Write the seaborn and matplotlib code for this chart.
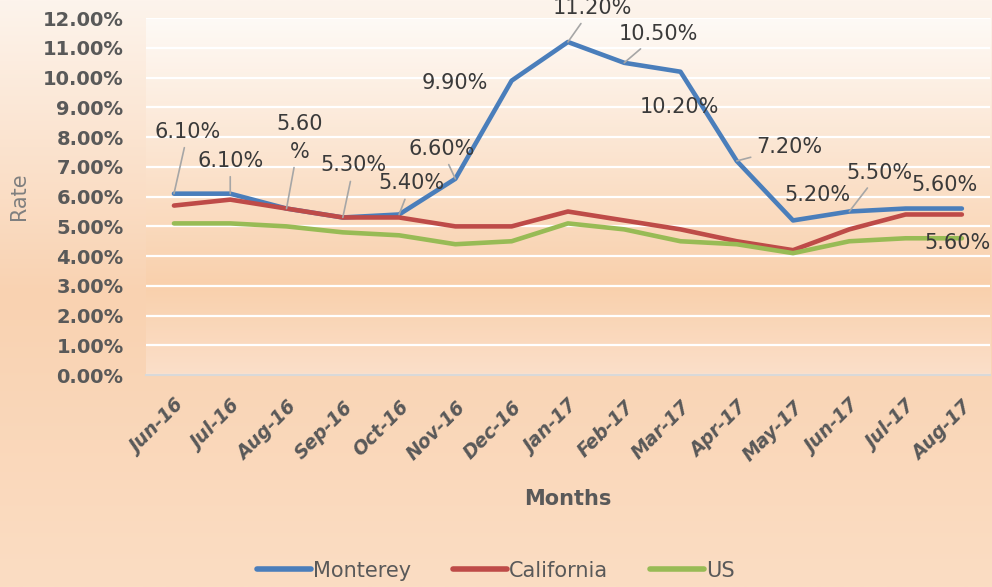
import numpy as np
import pandas as pd
import matplotlib
matplotlib.use("Agg")
import matplotlib.pyplot as plt
import seaborn as sns
from matplotlib.lines import Line2D

months = ["Jun-16", "Jul-16", "Aug-16", "Sep-16", "Oct-16", "Nov-16", "Dec-16", "Jan-17",
          "Feb-17", "Mar-17", "Apr-17", "May-17", "Jun-17", "Jul-17", "Aug-17"]
monterey = [6.1, 6.1, 5.6, 5.3, 5.4, 6.6, 9.9, 11.2, 10.5, 10.2, 7.2, 5.2, 5.5, 5.6, 5.6]
california = [5.7, 5.9, 5.6, 5.3, 5.3, 5.0, 5.0, 5.5, 5.2, 4.9, 4.5, 4.2, 4.9, 5.4, 5.4]
us = [5.1, 5.1, 5.0, 4.8, 4.7, 4.4, 4.5, 5.1, 4.9, 4.5, 4.4, 4.1, 4.5, 4.6, 4.6]
monterey_labels = ["6.10%", "6.10%", "5.60\n%", "5.30%", "5.40%", "6.60%", "9.90%", "11.20%",
                   "10.50%", "10.20%", "7.20%", "5.20%", "5.50%", "5.60%", None]
us_last_label = "5.60%"

df = pd.DataFrame({"Month": months * 3,
                   "Rate": monterey + california + us,
                   "Region": ["Monterey"] * 15 + ["California"] * 15 + ["US"] * 15})
df["x"] = list(range(15)) * 3

sns.set_style("white")
plt.rcParams["font.family"] = ["DejaVu Sans"]

fig = plt.figure(figsize=(9.92, 5.87), dpi=100)

# gradient background for the whole figure (top -> bottom)
bg = fig.add_axes([0, 0, 1, 1], zorder=-2)
t = np.linspace(0, 1, 300)
stops = [0.0, 0.5, 1.0]
cols = np.array([[253, 244, 236], [249, 210, 177], [251, 221, 195]]) / 255
grad = np.stack([np.interp(t, stops, cols[:, i]) for i in range(3)], axis=-1)
bg.imshow(grad[:, None, :], aspect="auto", extent=[0, 1, 0, 1])
bg.axis("off")

ax = fig.add_axes([0.147, 0.361, 0.851, 0.608])
ax.set_facecolor("none")
# plot area gradient (bottom -> top)
pa_stops = [0.0, 0.25, 1.0]
pa_cols = np.array([[251, 223, 201], [249, 208, 172], [254, 250, 246]]) / 255
pa = np.stack([np.interp(t, pa_stops, pa_cols[:, i]) for i in range(3)], axis=-1)
ax.imshow(pa[:, None, :], aspect="auto", extent=[-0.5, 14.5, 0, 12], origin="lower", zorder=0)

palette = {"Monterey": "#4A7EBB", "California": "#BE4B48", "US": "#98BB55"}
sns.lineplot(data=df, x="x", y="Rate", hue="Region", palette=palette, linewidth=3.3,
             ax=ax, zorder=3, legend=False, solid_capstyle="round")

ax.set_xlim(-0.5, 14.5)
ax.set_ylim(0, 12)
ax.set_yticks(np.arange(0, 13, 1))
ax.set_yticklabels([f"{v:.2f}%" for v in np.arange(0, 13, 1)], fontsize=14,
                   fontweight="bold", color="#595959")
ax.set_xticks(range(15))
ax.set_xticklabels(months, rotation=45, ha="right", rotation_mode="anchor",
                   fontsize=13.5, fontweight="bold", fontstyle="italic", color="#595959")
ax.set_xticks(np.arange(-0.5, 15, 1), minor=True)
ax.tick_params(axis="x", which="major", length=0, pad=16)
ax.tick_params(axis="x", which="minor", length=7, color="#D9D9D9", width=1.2)
ax.tick_params(axis="y", length=0, pad=16)
ax.grid(axis="y", color="white", linewidth=1.6, zorder=1)
ax.set_axisbelow(True)
for s in ["top", "right", "left"]:
    ax.spines[s].set_visible(False)
ax.spines["bottom"].set_color("#D9D9D9")
ax.spines["bottom"].set_linewidth(1.5)

ax.set_xlabel("Months", fontsize=15, fontweight="bold", color="#595959", labelpad=17)
ax.set_ylabel("Rate", fontsize=15, color="#7F7F7F")
ax.yaxis.set_label_coords(-0.138, 0.5)

# data labels (offsets in pixels, leader flag)
offsets = [(14, 62, True), (0, 33, True), (13, 71, True), (11, 52, True), (12, 31, True),
           (-14, 30, True), (-57, -2, False), (24, 34, True), (34, 29, True), (-1, -35, False),
           (53, 14, True), (24, 25, False), (30, 39, True), (39, 24, False)]
for i, (dx, dy, lead) in enumerate(offsets):
    ap = dict(arrowstyle="-", color="#A6A6A6", lw=1.2, shrinkA=2, shrinkB=0) if lead else None
    ax.annotate(monterey_labels[i], xy=(i, monterey[i]), xytext=(dx, dy),
                textcoords="offset pixels", ha="center", va="center", fontsize=15,
                color="#3A3A3A", arrowprops=ap, annotation_clip=False, zorder=5,
                linespacing=1.5)
ax.annotate(us_last_label, xy=(14, us[14]), xytext=(-4, -5), textcoords="offset pixels",
            ha="center", va="center", fontsize=15, color="#3A3A3A", annotation_clip=False,
            zorder=5)

handles = [Line2D([0], [0], color=palette[k], lw=4, solid_capstyle="round") for k in palette]
fig.legend(handles, list(palette.keys()), loc="center", bbox_to_anchor=(0.5, 0.028),
           ncol=3, frameon=False, fontsize=15, handlelength=2.6, handletextpad=0.1,
           columnspacing=2.0, labelcolor="#595959")

fig.savefig("out.png", dpi=100)
